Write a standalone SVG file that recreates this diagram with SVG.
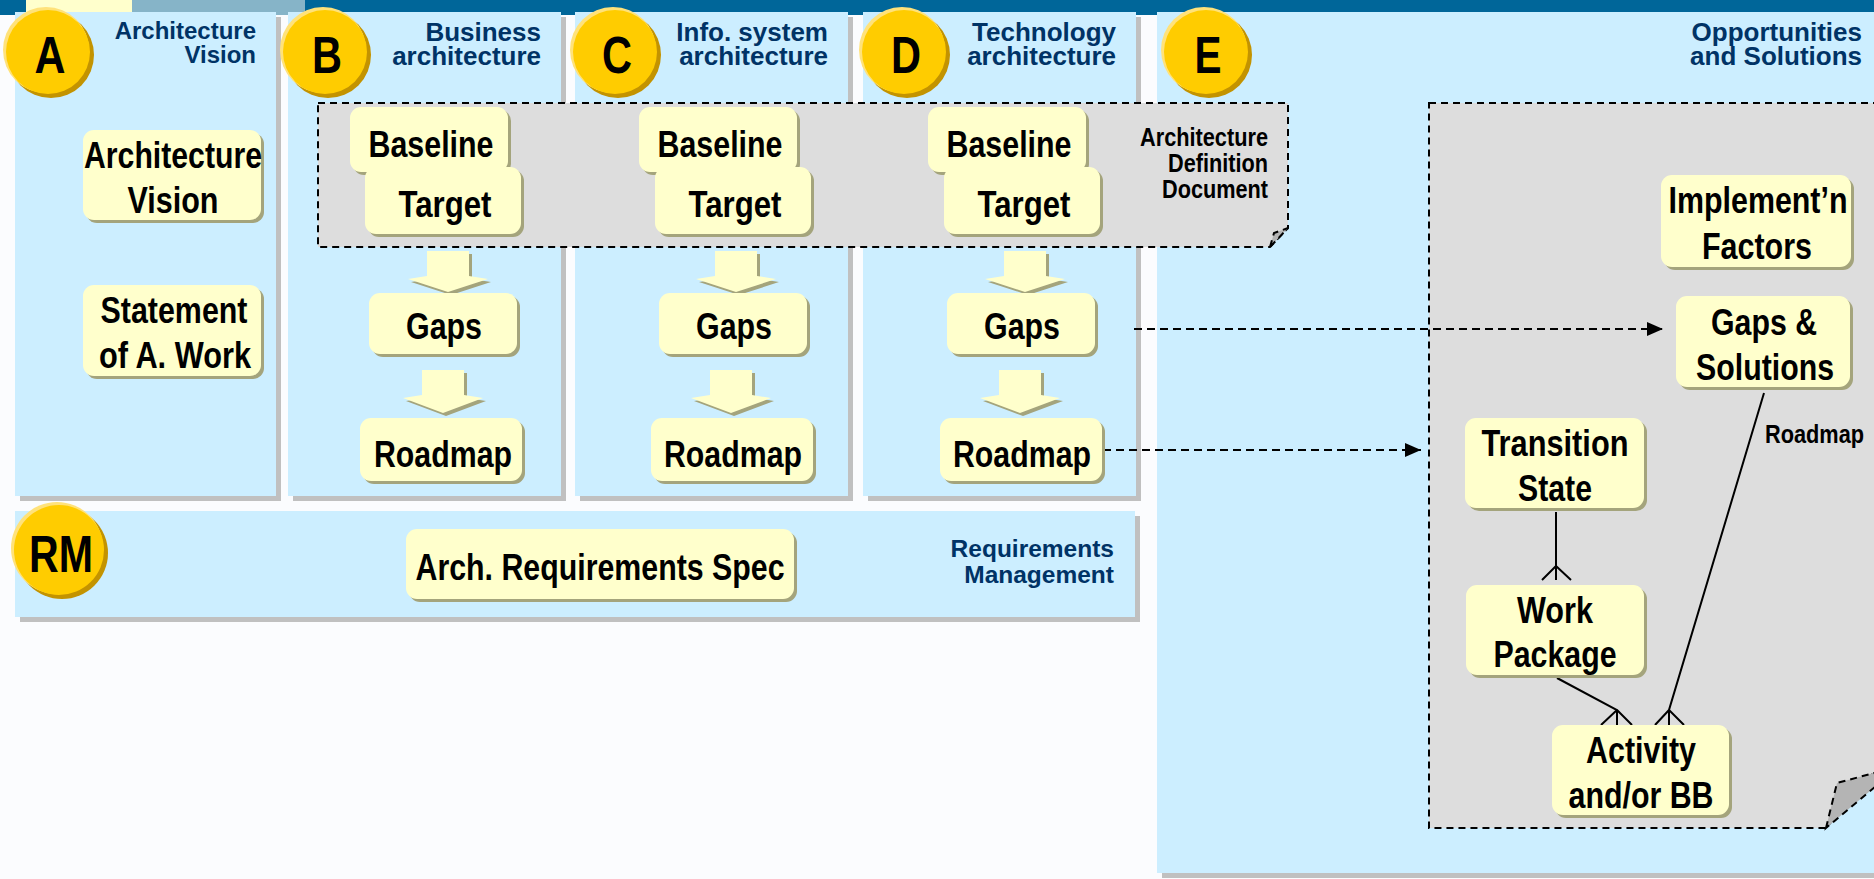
<svg xmlns="http://www.w3.org/2000/svg" width="1874" height="879" viewBox="0 0 1874 879">
<defs>
<style>
.bg{fill:#fbfcfe}
.panel{fill:#cceeff}
.psh{fill:#c0c0c0}
.nf{fill:#ffffcc}
.ns{fill:#a4a47c}
.nt{font-family:"Liberation Sans Narrow","Arial Narrow","Liberation Sans",Arial,sans-serif;font-weight:bold;font-size:37px;text-anchor:middle;fill:#000}
.sm{font-family:"Liberation Sans Narrow","Arial Narrow","Liberation Sans",Arial,sans-serif;font-weight:bold;font-size:26.5px;fill:#000}
.ti{font-family:"Liberation Sans",Arial,sans-serif;font-weight:bold;font-size:26px;text-anchor:end;fill:#003366}
.cf{fill:#ffcc00}
.ch{fill:#ffe27a}
.cs{fill:#c39300}
.cl{font-family:"Liberation Sans Narrow","Arial Narrow","Liberation Sans",Arial,sans-serif;font-weight:bold;font-size:52px;text-anchor:middle;fill:#000}
.doc{fill:#dddddd;stroke:#000;stroke-width:2;stroke-dasharray:7 5}
.fold{fill:#b4b4b4;stroke:#000;stroke-width:2;stroke-dasharray:7 5}
.dl{fill:none;stroke:#000;stroke-width:2;stroke-dasharray:8 5}
.sl{fill:none;stroke:#000;stroke-width:2}
.ba{fill:#ffffcc}
.bas{fill:#a4a47c}
</style>
<marker id="ah" viewBox="0 0 16 14" refX="16" refY="7" markerWidth="16" markerHeight="14" markerUnits="userSpaceOnUse" orient="auto"><path d="M0,0 L16,7 L0,14 Z" fill="#000"/></marker>
</defs>

<rect class="bg" x="0" y="0" width="1874" height="879"/>
<g id="topbar">
<rect x="0" y="0" width="1874" height="15" fill="#006699"/>
<rect x="26" y="0" width="106" height="12" fill="#ffffcc"/>
<rect x="132" y="0" width="173" height="15" fill="#86b4c8"/>
</g>

<g id="panel-a">
<rect class="psh" x="20" y="17" width="261" height="484"/>
<rect class="panel" x="15" y="12" width="261" height="484"/>
<text class="ti" style="font-size:24px" x="256" y="39">Architecture</text>
<text class="ti" style="font-size:24px" x="256" y="63">Vision</text>
</g>
<g id="panel-b">
<rect class="psh" x="293" y="17" width="273" height="484"/>
<rect class="panel" x="288" y="12" width="273" height="484"/>
<text class="ti" x="541" y="41">Business</text>
<text class="ti" x="541" y="65">architecture</text>
</g>
<g id="panel-c">
<rect class="psh" x="580" y="17" width="273" height="484"/>
<rect class="panel" x="575" y="12" width="273" height="484"/>
<text class="ti" x="828" y="41">Info. system</text>
<text class="ti" x="828" y="65">architecture</text>
</g>
<g id="panel-d">
<rect class="psh" x="868" y="17" width="273" height="484"/>
<rect class="panel" x="863" y="12" width="273" height="484"/>
<text class="ti" x="1116" y="41">Technology</text>
<text class="ti" x="1116" y="65">architecture</text>
</g>
<g id="panel-rm">
<rect class="psh" x="20" y="516" width="1120" height="106"/>
<rect class="panel" x="15" y="511" width="1120" height="106"/>
<text class="ti" style="font-size:24.5px" x="1114" y="557">Requirements</text>
<text class="ti" style="font-size:24.5px" x="1114" y="583">Management</text>
</g>
<g id="panel-e">
<rect class="psh" x="1162" y="17" width="720" height="861"/>
<rect class="panel" x="1157" y="12" width="720" height="861"/>
<text class="ti" x="1862" y="41">Opportunities</text>
<text class="ti" x="1862" y="65">and Solutions</text>
</g>

<g id="add-document">
<path class="doc" d="M318,103 H1288 V228 L1270,247 H318 Z"/>
<path class="fold" d="M1270,247 L1274,233 L1288,228 Z"/>
<text class="sm" text-anchor="end" x="1268" y="146" textLength="128" lengthAdjust="spacingAndGlyphs">Architecture</text>
<text class="sm" text-anchor="end" x="1268" y="172" textLength="100" lengthAdjust="spacingAndGlyphs">Definition</text>
<text class="sm" text-anchor="end" x="1268" y="198" textLength="106" lengthAdjust="spacingAndGlyphs">Document</text>
</g>
<g id="e-document">
<path class="doc" d="M1429,103 H1900 V742 L1826,828 H1429 Z"/>
<path class="fold" d="M1826,828 L1837,783 L1900,766 Z"/>
</g>

<g id="circle-a"><circle class="cs" cx="51" cy="55" r="43"/><circle class="ch" cx="46" cy="50" r="43"/><circle class="cf" cx="48" cy="52" r="42"/><text class="cl" x="50" y="73" textLength="31" lengthAdjust="spacingAndGlyphs">A</text></g>
<g id="circle-b"><circle class="cs" cx="328" cy="55" r="43"/><circle class="ch" cx="323" cy="50" r="43"/><circle class="cf" cx="325" cy="52" r="42"/><text class="cl" x="327" y="73" textLength="30" lengthAdjust="spacingAndGlyphs">B</text></g>
<g id="circle-c"><circle class="cs" cx="618" cy="55" r="43"/><circle class="ch" cx="613" cy="50" r="43"/><circle class="cf" cx="615" cy="52" r="42"/><text class="cl" x="617" y="73" textLength="30" lengthAdjust="spacingAndGlyphs">C</text></g>
<g id="circle-d"><circle class="cs" cx="907" cy="55" r="43"/><circle class="ch" cx="902" cy="50" r="43"/><circle class="cf" cx="904" cy="52" r="42"/><text class="cl" x="906" y="73" textLength="30" lengthAdjust="spacingAndGlyphs">D</text></g>
<g id="circle-e"><circle class="cs" cx="1209" cy="55" r="43"/><circle class="ch" cx="1204" cy="50" r="43"/><circle class="cf" cx="1206" cy="52" r="42"/><text class="cl" x="1208" y="73" textLength="27" lengthAdjust="spacingAndGlyphs">E</text></g>
<g id="circle-rm"><circle class="cs" cx="62" cy="553" r="46"/><circle class="ch" cx="57" cy="548" r="46"/><circle class="cf" cx="59" cy="550" r="45"/><text class="cl" x="61" y="572" textLength="64" lengthAdjust="spacingAndGlyphs">RM</text></g>

<g id="connectors">
<path class="bas" d="M430,254 H472 V279 L491,282 L451,295 L411,282 L430,279 Z"/>
<path class="ba" d="M427,251 H469 V276 L488,279 L448,292 L408,279 L427,276 Z"/>
<path class="bas" d="M718,254 H760 V279 L779,282 L739,295 L699,282 L718,279 Z"/>
<path class="ba" d="M715,251 H757 V276 L776,279 L736,292 L696,279 L715,276 Z"/>
<path class="bas" d="M1007,254 H1049 V279 L1068,282 L1028,295 L988,282 L1007,279 Z"/>
<path class="ba" d="M1004,251 H1046 V276 L1065,279 L1025,292 L985,279 L1004,276 Z"/>
<path class="bas" d="M425,373 H467 V398 L486,401 L446,416 L406,401 L425,398 Z"/>
<path class="ba" d="M422,370 H464 V395 L483,398 L443,413 L403,398 L422,395 Z"/>
<path class="bas" d="M713,373 H755 V398 L774,401 L734,416 L694,401 L713,398 Z"/>
<path class="ba" d="M710,370 H752 V395 L771,398 L731,413 L691,398 L710,395 Z"/>
<path class="bas" d="M1002,373 H1044 V398 L1063,401 L1023,416 L983,401 L1002,398 Z"/>
<path class="ba" d="M999,370 H1041 V395 L1060,398 L1020,413 L980,398 L999,395 Z"/>
<path class="dl" d="M1134,329 H1663" marker-end="url(#ah)"/>
<path class="dl" d="M1103,450 H1421" marker-end="url(#ah)"/>
<path class="sl" d="M1556,512 V580 M1556,566 L1542,580 M1556,566 L1571,580"/>
<path class="sl" d="M1557,678 L1617,710 V725 M1617,710 L1601,725 M1617,710 L1632,725"/>
<path class="sl" d="M1764,393 L1669,710 V725 M1669,710 L1655,725 M1669,710 L1684,725"/>
<text class="sm" x="1765" y="443" textLength="99" lengthAdjust="spacingAndGlyphs">Roadmap</text>
</g>

<g id="node-arch-vision"><rect class="ns" x="86" y="133" width="178" height="90" rx="11"/><rect class="nf" x="83" y="130" width="178" height="90" rx="11"/><text class="nt" x="173" y="168" textLength="178" lengthAdjust="spacingAndGlyphs">Architecture</text><text class="nt" x="173" y="213" textLength="91" lengthAdjust="spacingAndGlyphs">Vision</text></g>
<g id="node-statement"><rect class="ns" x="86" y="288" width="178" height="91" rx="11"/><rect class="nf" x="83" y="285" width="178" height="91" rx="11"/><text class="nt" x="174" y="323" textLength="147" lengthAdjust="spacingAndGlyphs">Statement</text><text class="nt" x="175" y="368" textLength="152" lengthAdjust="spacingAndGlyphs">of A. Work</text></g>

<g id="node-baseline-b"><rect class="ns" x="353" y="110" width="158" height="65" rx="11"/><rect class="nf" x="350" y="107" width="158" height="65" rx="11"/><text class="nt" x="431" y="157" textLength="125" lengthAdjust="spacingAndGlyphs">Baseline</text></g>
<g id="node-target-b"><rect class="ns" x="368" y="170" width="156" height="67" rx="11"/><rect class="nf" x="365" y="167" width="156" height="67" rx="11"/><text class="nt" x="445" y="217" textLength="93" lengthAdjust="spacingAndGlyphs">Target</text></g>
<g id="node-gaps-b"><rect class="ns" x="372" y="296" width="148" height="61" rx="11"/><rect class="nf" x="369" y="293" width="148" height="61" rx="11"/><text class="nt" x="444" y="339" textLength="76" lengthAdjust="spacingAndGlyphs">Gaps</text></g>
<g id="node-roadmap-b"><rect class="ns" x="363" y="421" width="162" height="63" rx="11"/><rect class="nf" x="360" y="418" width="162" height="63" rx="11"/><text class="nt" x="443" y="467" textLength="138" lengthAdjust="spacingAndGlyphs">Roadmap</text></g>

<g id="node-baseline-c"><rect class="ns" x="642" y="110" width="158" height="65" rx="11"/><rect class="nf" x="639" y="107" width="158" height="65" rx="11"/><text class="nt" x="720" y="157" textLength="125" lengthAdjust="spacingAndGlyphs">Baseline</text></g>
<g id="node-target-c"><rect class="ns" x="658" y="170" width="156" height="67" rx="11"/><rect class="nf" x="655" y="167" width="156" height="67" rx="11"/><text class="nt" x="735" y="217" textLength="93" lengthAdjust="spacingAndGlyphs">Target</text></g>
<g id="node-gaps-c"><rect class="ns" x="662" y="296" width="148" height="61" rx="11"/><rect class="nf" x="659" y="293" width="148" height="61" rx="11"/><text class="nt" x="734" y="339" textLength="76" lengthAdjust="spacingAndGlyphs">Gaps</text></g>
<g id="node-roadmap-c"><rect class="ns" x="654" y="421" width="162" height="63" rx="11"/><rect class="nf" x="651" y="418" width="162" height="63" rx="11"/><text class="nt" x="733" y="467" textLength="138" lengthAdjust="spacingAndGlyphs">Roadmap</text></g>

<g id="node-baseline-d"><rect class="ns" x="931" y="110" width="158" height="65" rx="11"/><rect class="nf" x="928" y="107" width="158" height="65" rx="11"/><text class="nt" x="1009" y="157" textLength="125" lengthAdjust="spacingAndGlyphs">Baseline</text></g>
<g id="node-target-d"><rect class="ns" x="947" y="170" width="156" height="67" rx="11"/><rect class="nf" x="944" y="167" width="156" height="67" rx="11"/><text class="nt" x="1024" y="217" textLength="93" lengthAdjust="spacingAndGlyphs">Target</text></g>
<g id="node-gaps-d"><rect class="ns" x="950" y="296" width="148" height="61" rx="11"/><rect class="nf" x="947" y="293" width="148" height="61" rx="11"/><text class="nt" x="1022" y="339" textLength="76" lengthAdjust="spacingAndGlyphs">Gaps</text></g>
<g id="node-roadmap-d"><rect class="ns" x="943" y="421" width="162" height="63" rx="11"/><rect class="nf" x="940" y="418" width="162" height="63" rx="11"/><text class="nt" x="1022" y="467" textLength="138" lengthAdjust="spacingAndGlyphs">Roadmap</text></g>

<g id="node-arch-req-spec"><rect class="ns" x="409" y="532" width="388" height="70" rx="11"/><rect class="nf" x="406" y="529" width="388" height="70" rx="11"/><text class="nt" x="600" y="580" textLength="369" lengthAdjust="spacingAndGlyphs">Arch. Requirements Spec</text></g>

<g id="node-implement-factors"><rect class="ns" x="1664" y="178" width="190" height="92" rx="11"/><rect class="nf" x="1661" y="175" width="190" height="92" rx="11"/><text class="nt" x="1758" y="213" textLength="179" lengthAdjust="spacingAndGlyphs">Implement’n</text><text class="nt" x="1757" y="259" textLength="110" lengthAdjust="spacingAndGlyphs">Factors</text></g>
<g id="node-gaps-solutions"><rect class="ns" x="1679" y="299" width="174" height="91" rx="11"/><rect class="nf" x="1676" y="296" width="174" height="91" rx="11"/><text class="nt" x="1764" y="335" textLength="106" lengthAdjust="spacingAndGlyphs">Gaps &amp;</text><text class="nt" x="1765" y="380" textLength="138" lengthAdjust="spacingAndGlyphs">Solutions</text></g>
<g id="node-transition-state"><rect class="ns" x="1468" y="421" width="179" height="90" rx="11"/><rect class="nf" x="1465" y="418" width="179" height="90" rx="11"/><text class="nt" x="1555" y="456" textLength="147" lengthAdjust="spacingAndGlyphs">Transition</text><text class="nt" x="1555" y="501" textLength="74" lengthAdjust="spacingAndGlyphs">State</text></g>
<g id="node-work-package"><rect class="ns" x="1469" y="588" width="178" height="90" rx="11"/><rect class="nf" x="1466" y="585" width="178" height="90" rx="11"/><text class="nt" x="1555" y="623" textLength="76" lengthAdjust="spacingAndGlyphs">Work</text><text class="nt" x="1555" y="667" textLength="123" lengthAdjust="spacingAndGlyphs">Package</text></g>
<g id="node-activity"><rect class="ns" x="1555" y="728" width="177" height="90" rx="11"/><rect class="nf" x="1552" y="725" width="177" height="90" rx="11"/><text class="nt" x="1641" y="763" textLength="110" lengthAdjust="spacingAndGlyphs">Activity</text><text class="nt" x="1641" y="808" textLength="145" lengthAdjust="spacingAndGlyphs">and/or BB</text></g>
</svg>
